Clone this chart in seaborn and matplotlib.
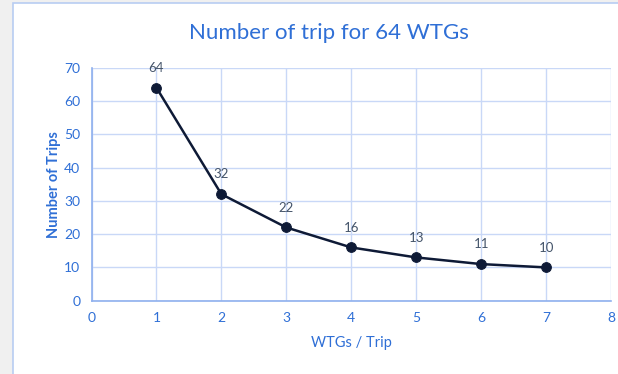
import matplotlib
matplotlib.use("Agg")
import matplotlib.pyplot as plt
from matplotlib.patches import Rectangle
import seaborn as sns
import pandas as pd

# data
wtgs_per_trip = [1, 2, 3, 4, 5, 6, 7]
num_trips = [64, 32, 22, 16, 13, 11, 10]
x_ticks = [0, 1, 2, 3, 4, 5, 6, 7, 8]
y_ticks = [0, 10, 20, 30, 40, 50, 60, 70]

df = pd.DataFrame({"wtgs": wtgs_per_trip, "trips": num_trips})

sns.set_style("white")
plt.rcParams["font.family"] = ["Lato", "DejaVu Sans"]

blue = "#2f6fd6"
grid_blue = "#c9d8f7"

fig = plt.figure(figsize=(6.18, 3.74), dpi=100)
fig.patch.set_facecolor("#f0f0f0")
# white chart panel with light border
fig.patches.append(Rectangle((13 / 618, -0.05), 1.0, 1 - 3 / 374 + 0.05,
                             transform=fig.transFigure, facecolor="white",
                             edgecolor="#b8cdf2", linewidth=1.2, zorder=-5))

ax = fig.add_axes([91.5 / 618, 1 - 300.7 / 374, (611 - 91.5) / 618, (300.7 - 67.7) / 374])
ax.set_zorder(2)
ax.set_facecolor("white")

sns.lineplot(data=df, x="wtgs", y="trips", ax=ax, color="#0e1a36", linewidth=1.8,
             marker="o", markersize=7, markeredgecolor="#0e1a36", zorder=3)

for x, y in zip(wtgs_per_trip, num_trips):
    ax.annotate(str(y), (x, y), xytext=(0, 10), textcoords="offset points",
                ha="center", va="bottom", fontsize=9.5, color="#44546a")

ax.set_xlim(0, 8)
ax.set_ylim(0, 70)
ax.set_xticks(x_ticks)
ax.set_yticks(y_ticks)
ax.grid(True, color=grid_blue, linewidth=1)
ax.tick_params(colors=blue, labelsize=10, length=0, pad=8)
for side in ["top", "right"]:
    ax.spines[side].set_visible(False)
for side in ["left", "bottom"]:
    ax.spines[side].set_color("#8fb0ee")
    ax.spines[side].set_linewidth(1.2)

ax.set_xlabel("WTGs / Trip", color=blue, fontsize=10.5, labelpad=9)
ax.set_ylabel("Number of Trips", color=blue, fontsize=10.5, fontweight="bold", labelpad=2)
fig.text(0.533, 1 - 33 / 374, "Number of trip for 64 WTGs", color=blue, fontsize=16,
         ha="center", va="center", zorder=3)

fig.savefig("out.png", dpi=100, facecolor=fig.get_facecolor())
